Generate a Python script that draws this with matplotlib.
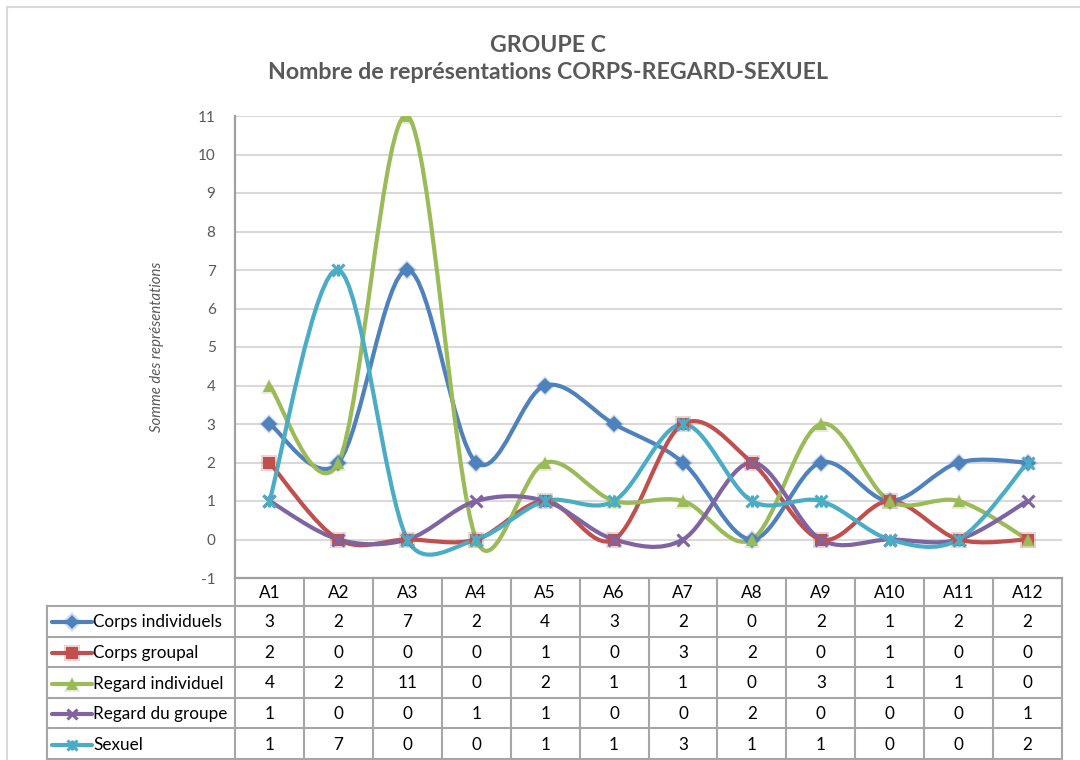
import numpy as np
import matplotlib
matplotlib.use("Agg")
import matplotlib.pyplot as plt
from matplotlib.path import Path
from matplotlib.patches import PathPatch
from matplotlib import transforms

# ---------------- data ----------------
categories = ["A1", "A2", "A3", "A4", "A5", "A6", "A7", "A8", "A9", "A10", "A11", "A12"]
series_names = ["Corps individuels", "Corps groupal", "Regard individuel",
                "Regard du groupe", "Sexuel"]
corps_individuels = [3, 2, 7, 2, 4, 3, 2, 0, 2, 1, 2, 2]
corps_groupal = [2, 0, 0, 0, 1, 0, 3, 2, 0, 1, 0, 0]
regard_individuel = [4, 2, 11, 0, 2, 1, 1, 0, 3, 1, 1, 0]
regard_du_groupe = [1, 0, 0, 1, 1, 0, 0, 2, 0, 0, 0, 1]
sexuel = [1, 7, 0, 0, 1, 1, 3, 1, 1, 0, 0, 2]
series_values = [corps_individuels, corps_groupal, regard_individuel,
                 regard_du_groupe, sexuel]
y_ticks = list(range(-1, 12))

title_text = "GROUPE C\nNombre de représentations CORPS-REGARD-SEXUEL"
ylabel_text = "Somme des représentations"

colors = ["#4F81BD", "#C0504D", "#9BBB59", "#8064A2", "#4BACC6"]
markers = ["D", "s", "^", "x", "*x"]

FONT = ["Lato", "DejaVu Sans"]
plt.rcParams["font.family"] = FONT

W, H = 1080, 760
fig = plt.figure(figsize=(W / 100, H / 100), dpi=100)

# overlay in pixel coordinates
ov = fig.add_axes([0, 0, 1, 1])
ov.set_xlim(0, W)
ov.set_ylim(H, 0)
ov.axis("off")
ov.patch.set_visible(False)

ax_l, ax_r, ax_t, ax_b = 235, 1062, 116, 578
ax = fig.add_axes([ax_l / W, 1 - ax_b / H, (ax_r - ax_l) / W, (ax_b - ax_t) / H])
ax.patch.set_visible(False)
n = len(categories)
x = np.arange(1, n + 1)
ax.set_xlim(0.5, n + 0.5)
ax.set_ylim(-1, 11)
ax.set_yticks(y_ticks)
ax.set_yticklabels([str(v) for v in y_ticks], color="#595959", fontsize=11)
ax.tick_params(axis="y", length=0, pad=14)
ax.set_xticks([])
for s in ["top", "right"]:
    ax.spines[s].set_visible(False)
ax.spines["left"].set_color("#A0A0A0")
ax.spines["left"].set_linewidth(1.6)
ax.spines["bottom"].set_color("#A0A0A0")
ax.spines["bottom"].set_linewidth(1.6)
for v in y_ticks[1:]:
    ax.axhline(v, color="#D9D9D9", lw=1.5, zorder=0)

ax.set_ylabel(ylabel_text, fontsize=10.7, style="italic", color="#595959", labelpad=24)

# border of the chart area
ov.plot([7, 7], [7, H], color="#D9D9D9", lw=1.5)
ov.plot([7, W], [7, 7], color="#D9D9D9", lw=1.5)

fig.text(548 / W, 1 - 59 / H, title_text, ha="center", va="center",
         fontsize=16.7, fontweight="bold", color="#595959", linespacing=1.3)


def excel_bezier(ax, xs, ys):
    pts = ax.transData.transform(np.column_stack([xs, ys]))
    m = len(pts)
    verts = [pts[0]]
    codes = [Path.MOVETO]
    for i in range(m - 1):
        p0 = pts[i - 1] if i > 0 else pts[i]
        p1 = pts[i]
        p2 = pts[i + 1]
        p3 = pts[i + 2] if i + 2 < m else pts[i + 1]
        d12 = np.linalg.norm(p2 - p1)
        t1 = p2 - p0
        d02 = np.linalg.norm(t1)
        f1 = 1 / 6
        if d02 > 0 and d02 / 6 > d12 / 2:
            f1 = d12 / 2 / d02
        t2 = p3 - p1
        d13 = np.linalg.norm(t2)
        f2 = 1 / 6
        if d13 > 0 and d13 / 6 > d12 / 2:
            f2 = d12 / 2 / d13
        verts += [p1 + t1 * f1, p2 - t2 * f2, p2]
        codes += [Path.CURVE4] * 3
    verts = ax.transData.inverted().transform(np.array(verts))
    return Path(verts, codes)


def draw_marker(axx, xs, ys, mk, col, size, transform=None, z=5):
    kw = {}
    if transform is not None:
        kw["transform"] = transform
    if mk == "*x":
        for m_ in ["x", "|"]:
            axx.plot(xs, ys, linestyle="none", marker=m_, ms=size * 0.95 if m_ == "x" else size * 0.9,
                     mew=2.2, color=col, zorder=z, **kw)
    elif mk == "x":
        axx.plot(xs, ys, linestyle="none", marker="x", ms=size * 0.95, mew=2.2,
                 color=col, zorder=z, **kw)
    else:
        ms = size * (0.85 if mk == "D" else 1.0)
        axx.plot(xs, ys, linestyle="none", marker=mk, ms=ms + 3, color=col,
                 alpha=0.25, mew=0, zorder=z, **kw)
        axx.plot(xs, ys, linestyle="none", marker=mk, ms=ms, color=col,
                 mew=0, zorder=z, **kw)


for k, (vals, col, mk) in enumerate(zip(series_values, colors, markers)):
    path = excel_bezier(ax, x, vals)
    ax.add_patch(PathPatch(path, fill=False, edgecolor=col, lw=3.0,
                           zorder=3 + k * 0.1, capstyle="round", joinstyle="round"))
    draw_marker(ax, x, vals, mk, col, 9.0, z=4 + k * 0.1)

# ---------------- data table ----------------
tbl_left = 47
hdr_top, hdr_bot = 578, 606
row_h = 30.6
rows_y = [hdr_bot + i * row_h for i in range(len(series_names) + 1)]
blend = transforms.blended_transform_factory(ax.transData, ov.transData)
gc = "#A6A6A6"
glw = 1.5

# horizontal lines
ov.plot([ax_l, ax_r], [hdr_bot, hdr_bot], color=gc, lw=glw)
for yy in rows_y:
    ov.plot([tbl_left, ax_r], [yy, yy], color=gc, lw=glw)
# vertical lines
for b in np.arange(0.5, n + 1.0, 1.0):
    ax.plot([b, b], [hdr_top, rows_y[-1]], color=gc, lw=glw, transform=blend,
            clip_on=False)
ov.plot([tbl_left, tbl_left], [hdr_bot, rows_y[-1]], color=gc, lw=glw)

for xi, cat in zip(x, categories):
    ax.text(xi, (hdr_top + hdr_bot) / 2 + 1, cat, transform=blend, ha="center",
            va="center", fontsize=12.3, color="#000000", clip_on=False)

for r, (name, vals, col, mk) in enumerate(zip(series_names, series_values, colors, markers)):
    yc = (rows_y[r] + rows_y[r + 1]) / 2 + 1
    ov.plot([52, 92], [yc, yc], color=col, lw=3.0, solid_capstyle="round")
    draw_marker(ov, [72], [yc], mk, col, 8.0)
    ov.text(93, yc, name, ha="left", va="center", fontsize=12.3, color="#000000")
    for xi, v in zip(x, vals):
        ax.text(xi, yc, str(v), transform=blend, ha="center", va="center",
                fontsize=12.3, color="#000000", clip_on=False)

fig.savefig("out.png", dpi=100)
